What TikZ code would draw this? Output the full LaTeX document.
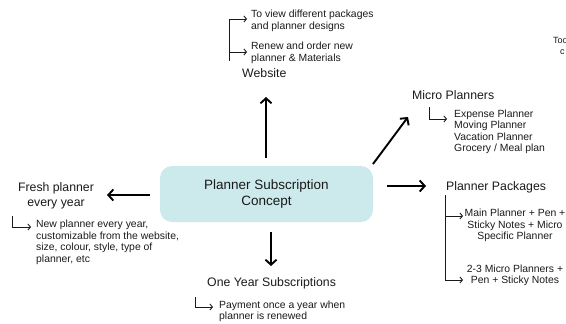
\documentclass[tikz,border=0pt]{standalone}
\usepackage{fontspec}
\setmainfont{Liberation Sans}
\usetikzlibrary{arrows.meta}
\definecolor{boxcyan}{HTML}{CCE9EC}
\definecolor{ink}{HTML}{1A1A1A}
\begin{document}
\begin{tikzpicture}[x=1pt,y=-1pt,
  big/.style={font=\fontsize{12.3}{15}\selectfont, text=ink, inner sep=0pt},
  small/.style={font=\fontsize{10.4}{11.6}\selectfont, text=ink, inner sep=0pt},
  tiny/.style={font=\fontsize{9}{11}\selectfont, text=ink, inner sep=0pt},
  concept/.style={rounded corners=12pt, fill=boxcyan, minimum width=213pt, minimum height=56pt,
    font=\fontsize{13.5}{16}\selectfont, text=ink, align=center, inner sep=0pt},
  bigarrow/.style={line width=1.9pt, -{Straight Barb[length=5pt,width=11pt]}},
  smallarrow/.style={line width=0.9pt, draw=ink, -{Straight Barb[length=2.5pt,width=6pt]}},
  bracket/.style={line width=0.9pt, draw=ink}]
\useasboundingbox (0,0) rectangle (566,324);
\clip (0,0) rectangle (566,324);

% central concept
\node[concept] (c) at (266.5,194) {Planner Subscription\\Concept};

% Website
\node[big, anchor=base west] (web) at (242,77) {Website};
\node[small, anchor=base west] (web1) at (251,17.5) {\begin{tabular}[t]{@{}l@{}}To view different packages\\and planner designs\end{tabular}};
\node[small, anchor=base west] (web2) at (251,49.5) {\begin{tabular}[t]{@{}l@{}}Renew and order new\\planner \& Materials\end{tabular}};
\coordinate (wtop) at (229,19);
\coordinate (wbot) at (229,61);
\coordinate (wmid) at (229,52);
\coordinate (wa1) at (247,19);
\coordinate (wa2) at (247,52);
\draw[bracket] (wtop) -- (wbot);
\draw[smallarrow] (wtop) -- (wa1);
\draw[smallarrow] (wmid) -- (wa2);
\coordinate (upstart) at (266,158);
\coordinate (upend) at (266,97);
\draw[bigarrow] (upstart) -- (upend);

% Micro planners
\node[big, anchor=base west] (micro) at (412,99) {Micro Planners};
\node[small, anchor=base west] (microlist) at (454,117) {\begin{tabular}[t]{@{}l@{}}Expense Planner\\Moving Planner\\Vacation Planner\\Grocery / Meal plan\end{tabular}};
\coordinate (mtop) at (429,107);
\coordinate (mcorner) at (429,119);
\coordinate (mend) at (447,119);
\draw[smallarrow] (mtop) -- (mcorner) -- (mend);
\coordinate (dstart) at (373,164);
\coordinate (dend) at (408,117);
\draw[bigarrow] (dstart) -- (dend);

% Planner packages
\node[big, anchor=base west] (pack) at (446,190) {Planner Packages};
\node[small, anchor=base] (pack1) at (515,216.5) {\begin{tabular}[t]{@{}c@{}}Main Planner + Pen +\\Sticky Notes + Micro\\Specific Planner\end{tabular}};
\node[small, anchor=base] (pack2) at (515,272) {\begin{tabular}[t]{@{}c@{}}2-3 Micro Planners +\\Pen + Sticky Notes\end{tabular}};
\coordinate (ptop) at (445,195);
\coordinate (pmid) at (445,216);
\coordinate (pbot) at (445,280);
\coordinate (pa1) at (463,216);
\coordinate (pa2) at (463,280);
\draw[smallarrow] (ptop) -- (pbot) -- (pa2);
\draw[smallarrow] (pmid) -- (pa1);
\coordinate (rstart) at (387,186);
\coordinate (rend) at (426,186);
\draw[bigarrow] (rstart) -- (rend);

% Fresh planner
\node[big, anchor=base] (fresh) at (56,191) {\begin{tabular}[t]{@{}c@{}}Fresh planner\\every year\end{tabular}};
\node[small, anchor=base west] (freshnote) at (36,227.5) {\begin{tabular}[t]{@{}l@{}}New planner every year,\\customizable from the website,\\size, colour, style, type of\\planner, etc\end{tabular}};
\coordinate (ftop) at (12,216);
\coordinate (fcorner) at (12,227);
\coordinate (fend) at (31,227);
\draw[smallarrow] (ftop) -- (fcorner) -- (fend);
\coordinate (lstart) at (150,195);
\coordinate (lend) at (107,195);
\draw[bigarrow] (lstart) -- (lend);

% One year subscriptions
\node[big, anchor=base west] (one) at (207,286.5) {One Year Subscriptions};
\node[small, anchor=base west] (onenote) at (219,308) {\begin{tabular}[t]{@{}l@{}}Payment once a year when\\planner is renewed\end{tabular}};
\coordinate (otop) at (195,297);
\coordinate (ocorner) at (195,307);
\coordinate (oend) at (213,307);
\draw[smallarrow] (otop) -- (ocorner) -- (oend);
\coordinate (dnstart) at (271,232);
\coordinate (dnend) at (271,266);
\draw[bigarrow] (dnstart) -- (dnend);

% clipped text at the right edge
\node[tiny, anchor=base west] (cut) at (553,43) {\begin{tabular}[t]{@{}l@{}}Too\\\hspace{7pt}c\end{tabular}};
\end{tikzpicture}
\end{document}
